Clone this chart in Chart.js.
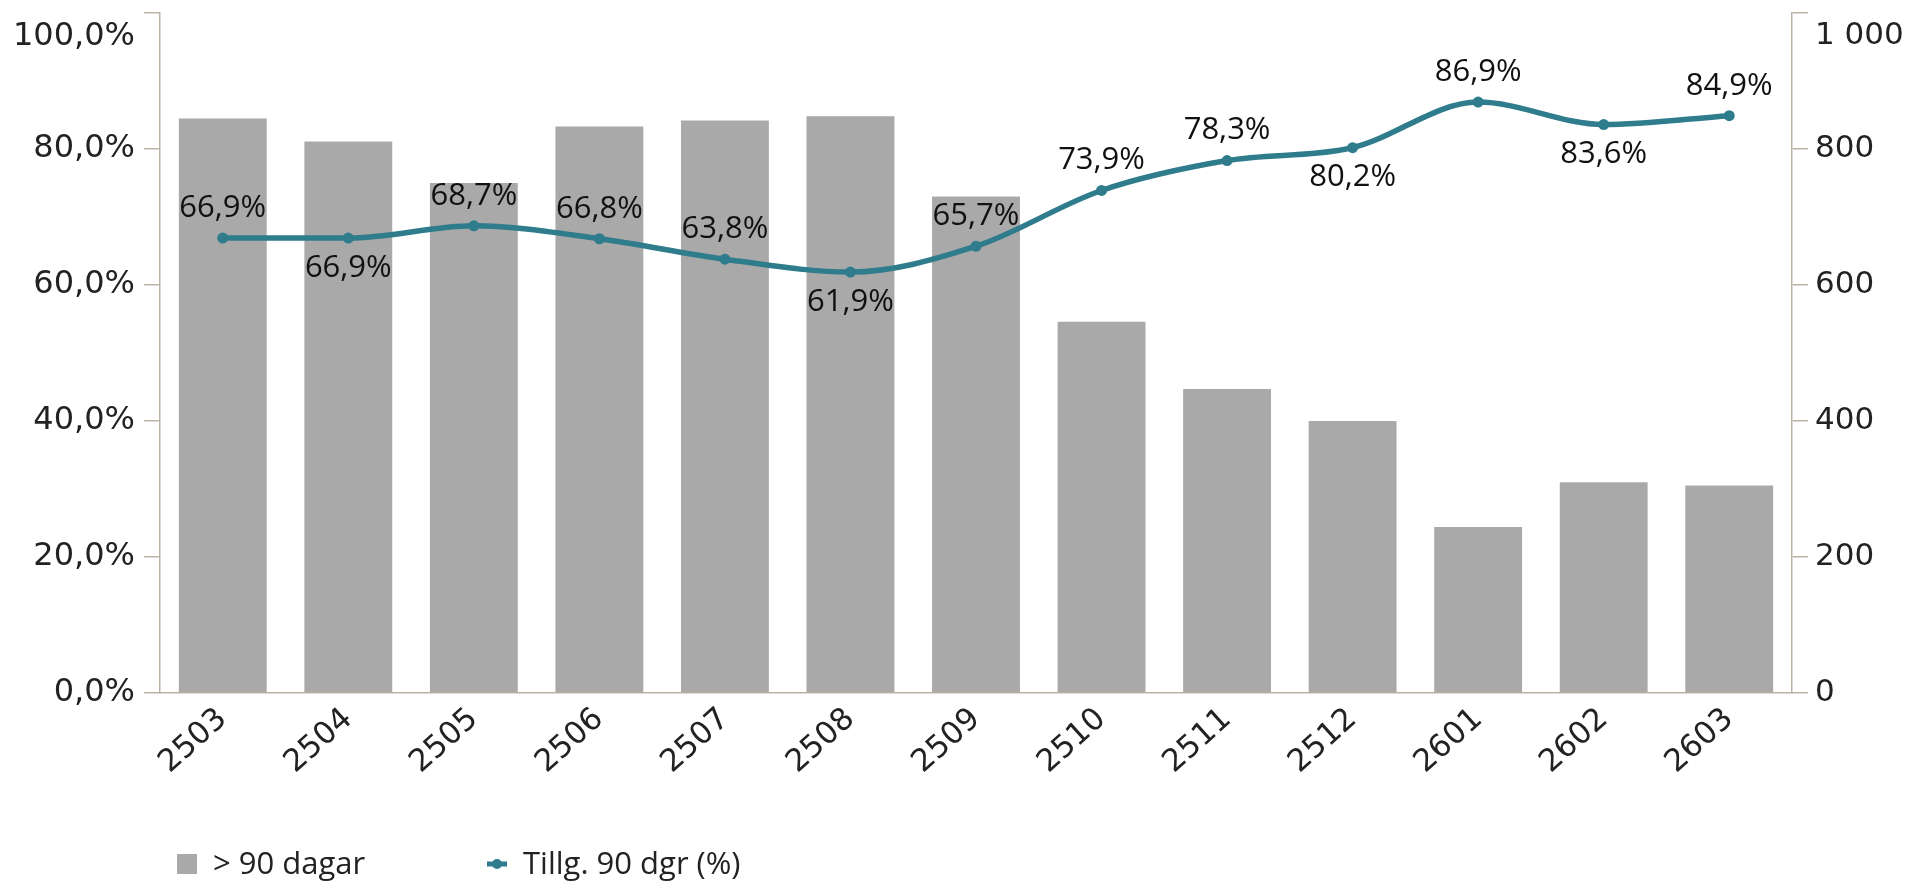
<!DOCTYPE html>
<html>
<head>
<meta charset="utf-8">
<script src="https://cdn.jsdelivr.net/npm/chart.js@4.4.1/dist/chart.umd.min.js"></script>
<style>
  html, body { margin: 0; padding: 0; background: #fff; overflow: hidden; }
</style>
</head>
<body>
<canvas id="chart" width="1909" height="884"></canvas>
<script>
// data
const months = ['2503', '2504', '2505', '2506', '2507', '2508', '2509', '2510', '2511', '2512', '2601', '2602', '2603'];
const over90 = [845, 811, 750, 833, 842, 848, 730, 546, 447, 400, 244, 310, 305];
const share90 = [66.9, 66.9, 68.7, 66.8, 63.8, 61.9, 65.7, 73.9, 78.3, 80.2, 86.9, 83.6, 84.9];
const pctTicks = ['0,0%', '20,0%', '40,0%', '60,0%', '80,0%', '100,0%'];
const countTicks = ['0', '200', '400', '600', '800', '1 000'];
const seriesNames = ['> 90 dagar', 'Tillg. 90 dgr (%)'];
const labelsBelow = ['2504', '2508', '2512', '2602'];

const barColor = '#a9a9a9';
const lineColor = '#2f7c8d';
const axisColor = '#bbb3a6';
const textColor = '#222';

const fmtPct = v => v.toFixed(1).replace('.', ',') + '%';

// top tick label sits just below the axis end, like the original
const tickText = list => (value, index, ticks) => {
  const label = list[index];
  return index === ticks.length - 1 ? ['', label] : label;
};

const pointLabels = {
  id: 'pointLabels',
  afterDatasetsDraw(chart) {
    const meta = chart.getDatasetMeta(0); // the line
    const ctx = chart.ctx;
    ctx.save();
    ctx.font = '31px "Open Sans"';
    ctx.fillStyle = '#111';
    ctx.textAlign = 'center';
    ctx.textBaseline = 'middle';
    meta.data.forEach((pt, i) => {
      const dy = labelsBelow.includes(months[i]) ? 30 : -30;
      ctx.fillText(fmtPct(share90[i]), pt.x, pt.y + dy);
    });
    ctx.restore();
  }
};

const bottomLegend = {
  id: 'bottomLegend',
  afterDraw(chart) {
    const ctx = chart.ctx;
    const y = 864;
    ctx.save();
    ctx.font = '31px "Open Sans"';
    ctx.textBaseline = 'middle';

    ctx.fillStyle = barColor;
    ctx.fillRect(177, y - 10, 20, 20);
    ctx.fillStyle = textColor;
    ctx.fillText(seriesNames[0], 213, y + 1);

    ctx.strokeStyle = lineColor;
    ctx.lineWidth = 5;
    ctx.beginPath();
    ctx.moveTo(487, y);
    ctx.lineTo(507, y);
    ctx.stroke();
    ctx.fillStyle = lineColor;
    ctx.beginPath();
    ctx.arc(497, y, 5, 0, Math.PI * 2);
    ctx.fill();
    ctx.fillStyle = textColor;
    ctx.fillText(seriesNames[1], 523, y + 1);
    ctx.restore();
  }
};

new Chart(document.getElementById('chart').getContext('2d'), {
  type: 'bar',
  data: {
    labels: months,
    datasets: [
      {
        type: 'line',
        label: seriesNames[1],
        data: share90,
        yAxisID: 'yPct',
        borderColor: lineColor,
        backgroundColor: lineColor,
        borderWidth: 5.5,
        pointRadius: 5.5,
        pointBackgroundColor: lineColor,
        pointBorderWidth: 0,
        cubicInterpolationMode: 'monotone',
        order: 0
      },
      {
        type: 'bar',
        label: seriesNames[0],
        data: over90,
        yAxisID: 'yCount',
        backgroundColor: barColor,
        barPercentage: 0.7,
        categoryPercentage: 1,
        order: 1
      }
    ]
  },
  options: {
    responsive: false,
    animation: false,
    layout: { padding: { top: 13, left: 0, right: 0, bottom: 0 } },
    plugins: {
      legend: { display: false },
      tooltip: { enabled: false }
    },
    scales: {
      x: {
        grid: { display: true, drawOnChartArea: false, drawTicks: false },
        border: { display: true, color: axisColor, width: 1.5 },
        ticks: {
          color: textColor,
          font: { family: 'DejaVu Sans', size: 31 },
          maxRotation: 42,
          minRotation: 42,
          autoSkip: false,
          padding: 8
        },
        afterFit(scale) {
          scale.height = 191;
          scale.paddingLeft = 0;
          scale.paddingRight = 0;
        }
      },
      yPct: {
        position: 'left',
        min: 0,
        max: 100,
        ticks: {
          stepSize: 20,
          color: textColor,
          font: { family: 'DejaVu Sans', size: 32, lineHeight: 1.45 },
          padding: 9,
          callback: tickText(pctTicks)
        },
        grid: { drawOnChartArea: false, drawTicks: true, tickLength: 16, color: axisColor, lineWidth: 1.5 },
        border: { display: true, color: axisColor, width: 1.5 },
        afterFit(scale) {
          scale.width = 160;
          scale.paddingTop = 0;
          scale.paddingBottom = 0;
        }
      },
      yCount: {
        position: 'right',
        min: 0,
        max: 1000,
        ticks: {
          stepSize: 200,
          color: textColor,
          font: { family: 'DejaVu Sans', size: 31, lineHeight: 1.45 },
          padding: 7,
          callback: tickText(countTicks)
        },
        grid: { drawOnChartArea: false, drawTicks: true, tickLength: 16, color: axisColor, lineWidth: 1.5 },
        border: { display: true, color: axisColor, width: 1.5 },
        afterFit(scale) {
          scale.width = 117;
          scale.paddingTop = 0;
          scale.paddingBottom = 0;
        }
      }
    }
  },
  plugins: [pointLabels, bottomLegend]
});
</script>
</body>
</html>
